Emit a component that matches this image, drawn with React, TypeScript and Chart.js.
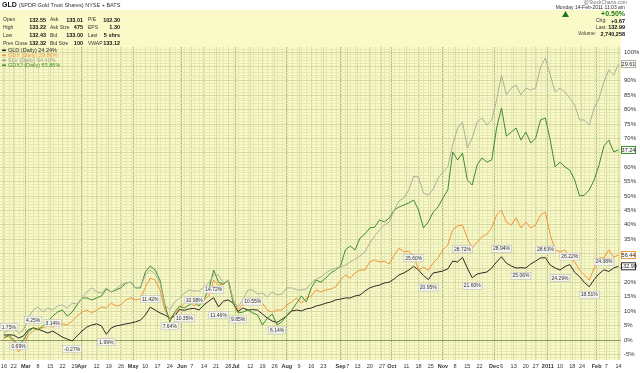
import React, { useEffect, useRef } from 'react';
import { Chart, registerables } from 'chart.js';
Chart.register(...registerables);

const FONT = '"Liberation Sans", Arial, sans-serif';

// ---- series (percent change, sampled every 2 trading days from 16-Feb-2010) ----
const dayStep = 2;
const gld = [1.7,1.8,1.7,0.7,1.4,3.5,4.2,3.8,3.1,2.4,3.1,2.1,1.0,0.3,-0.3,1.4,3.1,4.5,5.2,5.6,4.9,2.0,4.2,4.9,5.2,5.6,5.9,6.3,6.9,8.7,11.4,10.4,9.4,8.7,7.6,8.3,10.6,10.3,10.8,11.0,10.4,12.2,13.5,14.7,11.5,13.5,13.9,12.8,9.9,11.1,10.4,10.55,10.4,9.0,7.6,6.6,6.1,7.2,8.4,10.1,10.4,10.1,10.8,11.1,11.8,12.2,12.8,13.2,13.9,14.2,14.6,14.6,15.3,15.6,17.0,18.1,18.7,19.1,19.8,20.1,21.2,22.6,23.3,24.3,25.6,24.3,22.4,21.0,23.3,23.6,24.0,24.7,27.4,27.1,28.7,25.0,21.6,22.9,23.3,23.6,25.0,27.1,28.9,26.7,25.7,25.0,25.1,25.0,26.4,27.4,28.5,28.6,26.0,25.0,24.3,25.5,26.2,23.5,22.0,20.0,18.5,21.0,23.0,24.4,23.8,25.0,25.6];
const gdx = [0.7,1.4,-0.7,-4.2,-2.4,1.7,3.1,4.2,4.2,4.9,4.5,5.2,5.6,5.2,6.6,8.3,9.7,10.4,9.4,10.4,11.5,11.1,12.8,11.8,12.2,13.9,14.6,13.9,14.2,18.4,21.5,20.8,17.4,10.4,7.6,9.0,11.1,12.8,13.9,11.8,13.9,13.9,15.3,20.8,19.1,19.4,20.8,13.9,10.4,12.5,13.9,12.8,13.5,12.8,10.4,9.7,10.4,10.4,12.2,13.2,14.6,12.8,14.6,15.3,17.4,16.7,17.4,17.7,18.4,20.8,22.6,21.5,23.3,24.3,24.3,27.1,27.8,27.1,27.4,26.4,29.5,31.9,30.6,30.9,29.2,24.3,25.3,24.3,26.7,28.5,31.3,33.0,38.2,39.6,39.9,35.4,31.9,34.0,35.8,36.8,38.9,43.4,45.1,41.0,39.9,42.4,38.9,41.0,38.9,39.9,43.4,44.4,36.5,31.3,30.6,31.3,28.5,27.1,24.3,22.6,20.8,25.0,28.5,28.5,31.3,28.8,29.5];
const slv = [2.4,3.5,4.2,2.4,3.5,7.6,10.4,11.5,9.7,11.1,10.4,11.8,12.2,11.1,12.8,12.5,14.6,16.7,18.1,16.7,16.3,18.1,16.7,17.7,19.1,19.8,20.1,18.1,18.4,22.6,24.3,22.9,19.8,12.2,10.4,13.2,14.6,16.3,17.4,17.0,17.0,18.4,19.8,22.6,22.6,19.8,20.8,13.9,11.5,13.9,17.4,17.4,16.0,16.3,14.9,16.7,15.6,16.0,18.1,18.1,17.4,17.4,17.7,19.8,21.2,21.9,23.3,24.3,25.0,25.3,26.0,27.1,28.1,29.2,30.6,33.7,36.1,38.2,39.9,41.0,45.1,48.3,49.3,52.1,56.9,56.6,51.0,50.3,52.4,56.2,58.3,60.1,67.7,73.6,75.7,66.7,70.1,75.7,77.1,74.6,76.4,83.3,92.0,85.1,87.5,88.5,85.1,87.5,86.8,87.5,94.8,97.9,92.0,86.1,87.5,86.1,84.0,81.6,76.4,76.4,74.6,80.6,84.0,89.6,93.8,92.0,95.8];
const gdxj = [0.7,1.7,0,-1.7,0,2.8,4.2,3.5,4.9,6.3,8.3,9.7,10.4,8.3,9.7,12.2,14.6,14.6,13.9,14.6,15.3,17.7,16.7,17.4,18.1,19.8,20.1,18.1,18.1,23.6,25.7,24.3,20.8,12.2,6.3,9.7,11.8,11.1,12.2,13.2,11.8,14.2,17.4,24.3,20.1,19.4,20.8,12.8,9.4,9.7,10.4,9.4,8.7,5.2,7.6,9.0,5.2,6.3,8.7,10.4,12.8,15.3,13.2,18.1,20.8,20.1,21.5,23.3,24.3,25.7,31.3,32.6,31.3,35.4,36.8,38.9,39.2,41.7,41.0,42.4,45.1,46.2,46.9,47.6,48.6,45.1,38.9,41.0,44.4,46.2,49.3,52.1,65.3,62.5,64.9,55.6,53.8,60.8,63.2,61.8,62.5,73.6,80.6,70.8,72.2,73.6,69.4,72.2,68.4,70.1,76.4,77.1,69.4,60.1,61.8,60.1,59.0,55.6,50.0,50.3,52.1,55.6,60.8,67.4,69.4,65.3,66.0];

const seriesNames = ['SLV', 'GDXJ', 'GDX', 'GLD'];
const seriesColors = ['#a9b39b', '#3f8d2c', '#f3963a', '#2f2925'];
const legendTexts = ['GLD (Daily) 24.24%', 'GDX (Daily) 29.86%', 'SLV (Daily) 94.40%', 'GDXJ (Daily) 65.86%'];
const legendColors = ['#2f2925', '#f3963a', '#9aa58c', '#3f8d2c'];
const lastPrices = ['29.61', '37.24', '56.44', '132.99'];

// ---- x axis (trading-day index) ----
const tickDays = [0,4,9,14,19,24,29,32,38,43,48,53,58,63,68,73,77,82,87,92,95,101,106,111,116,121,126,131,138,141,145,150,155,159,165,170,175,180,185,190,195,201,204,209,214,218,223,228,233,237,243,247,252];
const tickLabels = ['16','22','Mar','8','15','22','29','Apr','12','19','26','May','10','17','24','Jun','7','14','21','28','Jul','12','19','26','Aug','9','16','23','Sep','7','13','20','27','Oct','11','18','25','Nov','8','15','22','Dec','6','13','20','27','2011','10','18','24','Feb','7','14'];

// ---- GLD swing labels: sample index, text, side (1 above / -1 below) ----
const noteIdx = [1,3,6,10,14,21,30,34,37,39,43,44,48,51,56,84,87,94,96,102,106,111,114,116,120,123];
const noteText = ['1.75%','0.69%','4.25%','3.14%','-0.27%','1.99%','11.42%','7.64%','10.35%','10.98%','14.72%','11.46%','9.85%','10.55%','6.14%','25.60%','20.95%','28.72%','21.60%','28.94%','25.06%','28.63%','24.29%','26.22%','18.51%','24.38%'];
const noteSide = [1,-1,1,1,-1,-1,1,-1,-1,1,1,-1,-1,1,-1,1,-1,1,-1,1,-1,1,-1,1,-1,1];

// ---- header info ----
const infoRows = [
  ['Open', '132.55', 'Ask', '133.01', 'P/E', '102.30'],
  ['High', '133.22', 'Ask Size', '475', 'EPS', '1.30'],
  ['Low', '132.43', 'Bid', '133.00', 'Last', '5 shrs'],
  ['Prev Close', '132.32', 'Bid Size', '100', 'VWAP', '133.12'],
];

const isMonthLabel = (s: string) => isNaN(Number(s)) || s === '2011';

export default function App() {
  const ref = useRef<HTMLCanvasElement | null>(null);
  useEffect(() => {
    const canvas = ref.current;
    if (!canvas) return;
    const days = gld.map((_, i) => i * dayStep);
    const all = [slv, gdxj, gdx, gld];

    const bgPlugin = {
      id: 'bg',
      beforeDraw(chart: any) {
        const { ctx, chartArea: a } = chart;
        ctx.save();
        ctx.fillStyle = '#ffffff';
        ctx.fillRect(0, 0, chart.width, chart.height);
        ctx.fillStyle = '#fafac8';
        ctx.fillRect(0, 10, a.right, a.top - 10);
        ctx.fillRect(a.left, a.top, a.right - a.left, a.bottom - a.top);
        const xs = chart.scales.x;
        ctx.strokeStyle = '#e6e8b6';
        ctx.lineWidth = 1;
        ctx.beginPath();
        for (let d = 0; d <= 252; d += 2) {
          const px = Math.round(xs.getPixelForValue(d)) + 0.5;
          ctx.moveTo(px, a.top);
          ctx.lineTo(px, a.bottom);
        }
        ctx.stroke();
        ctx.restore();
      },
    };

    const notePlugin = {
      id: 'notes',
      afterDatasetsDraw(chart: any) {
        const { ctx, chartArea: a } = chart;
        const meta = chart.getDatasetMeta(3);
        ctx.save();
        ctx.font = `5px ${FONT}`;
        ctx.textAlign = 'center';
        ctx.textBaseline = 'middle';
        noteIdx.forEach((k, i) => {
          const p = meta.data[k];
          if (!p) return;
          const t = noteText[i];
          const w = ctx.measureText(t).width + 3;
          const cy = p.y - noteSide[i] * 8;
          const cx = Math.max(a.left + w / 2, p.x);
          ctx.fillStyle = 'rgba(245,245,245,0.9)';
          ctx.fillRect(cx - w / 2, cy - 3.5, w, 7);
          ctx.strokeStyle = '#b8b8b8';
          ctx.lineWidth = 0.5;
          ctx.strokeRect(cx - w / 2, cy - 3.5, w, 7);
          ctx.fillStyle = '#333';
          ctx.fillText(t, cx, cy + 0.3);
        });
        [0, 1, 2, 3].forEach((di) => {
          const m = chart.getDatasetMeta(di);
          const p = m.data[m.data.length - 1];
          const t = lastPrices[di];
          const w = 14;
          const x0 = a.right;
          ctx.fillStyle = '#ffffff';
          ctx.fillRect(x0, p.y - 3.5, w, 7);
          ctx.strokeStyle = seriesColors[di];
          ctx.lineWidth = 1;
          ctx.strokeRect(x0 + 0.5, p.y - 3.5, w, 7);
          ctx.fillStyle = '#222';
          ctx.font = `5.5px ${FONT}`;
          ctx.textAlign = 'center';
          ctx.fillText(t, x0 + w / 2 + 0.5, p.y + 0.3);
        });
        ctx.restore();
      },
      afterDraw(chart: any) {
        const { ctx } = chart;
        ctx.save();
        ctx.textBaseline = 'middle';
        ctx.fillStyle = '#111';
        ctx.font = `bold 7px ${FONT}`;
        ctx.textAlign = 'left';
        ctx.fillText('GLD', 2, 5);
        const w0 = ctx.measureText('GLD').width;
        ctx.font = `5.5px ${FONT}`;
        ctx.fillStyle = '#333';
        ctx.fillText('(SPDR Gold Trust Shares) NYSE + BATS', 2 + w0 + 2, 5);
        ctx.textAlign = 'right';
        ctx.fillStyle = '#777';
        ctx.font = `5px ${FONT}`;
        ctx.fillText('@StockCharts.com', 627, 3);
        const lx = [3, 50, 88];
        const vx = [46, 83, 120];
        infoRows.forEach((row, r) => {
          const y = 20 + r * 7.8;
          for (let c = 0; c < 3; c++) {
            ctx.textAlign = 'left';
            ctx.font = `5px ${FONT}`;
            ctx.fillStyle = '#333';
            ctx.fillText(row[c * 2], lx[c], y);
            ctx.textAlign = 'right';
            ctx.font = `bold 5.5px ${FONT}`;
            ctx.fillStyle = '#111';
            ctx.fillText(row[c * 2 + 1], vx[c], y);
          }
        });
        ctx.textAlign = 'right';
        ctx.font = `5px ${FONT}`;
        ctx.fillStyle = '#333';
        ctx.fillText('Monday 14-Feb-2011 11:03 am', 625, 8);
        ctx.fillStyle = '#1f7a1f';
        ctx.font = `bold 7px ${FONT}`;
        ctx.fillText('+0.50%', 625, 14.5);
        ctx.beginPath();
        ctx.moveTo(562, 17);
        ctx.lineTo(565.5, 11);
        ctx.lineTo(569, 17);
        ctx.closePath();
        ctx.fill();
        const rr: [string, string, number, number][] = [
          ['Chg:', '+0.67', 21, 596],
          ['Last:', '132.99', 27.5, 596],
          ['Volume:', '2,740,258', 34, 578],
        ];
        rr.forEach(([l, v, y, x]) => {
          ctx.textAlign = 'left';
          ctx.font = `5px ${FONT}`;
          ctx.fillStyle = '#333';
          ctx.fillText(l, x, y);
          ctx.textAlign = 'right';
          ctx.font = `bold 5.5px ${FONT}`;
          ctx.fillStyle = '#111';
          ctx.fillText(v, 625, y);
        });
        legendTexts.forEach((t, i) => {
          const y = 50.5 + i * 5;
          ctx.fillStyle = legendColors[i];
          ctx.fillRect(2, y - 1, 4, 1.6);
          ctx.textAlign = 'left';
          ctx.font = `5.5px ${FONT}`;
          ctx.fillText(t, 8, y);
        });
        ctx.restore();
      },
    };

    const chart = new Chart(canvas, {
      type: 'line',
      data: {
        datasets: all.map((vals, i) => ({
          label: seriesNames[i],
          data: vals.map((v, j) => ({ x: days[j], y: v })),
          borderColor: seriesColors[i],
          borderWidth: 1,
          pointRadius: 0,
          tension: 0,
          fill: false,
        })),
      },
      options: {
        animation: false,
        responsive: false,
        maintainAspectRatio: false,
        layout: { padding: { top: 47, left: 0, right: 0, bottom: 0 } },
        plugins: { legend: { display: false }, tooltip: { enabled: false } },
        scales: {
          x: {
            type: 'linear',
            min: -1.6,
            max: 253,
            afterBuildTicks: (s: any) => {
              s.ticks = tickDays.map((v) => ({ value: v }));
            },
            afterFit: (s: any) => {
              s.height = 13;
              s.paddingLeft = 0;
              s.paddingRight = 0;
            },
            ticks: {
              autoSkip: false,
              maxRotation: 0,
              padding: 3,
              color: '#333',
              font: (c: any) => ({
                size: 5.5,
                family: FONT,
                weight: c.index !== undefined && isMonthLabel(tickLabels[c.index]) ? 'bold' : 'normal',
              }),
              callback: (_v: any, i: number) => tickLabels[i],
            },
            grid: {
              drawTicks: false,
              color: (c: any) => {
                const i = tickDays.indexOf(c.tick ? c.tick.value : -1);
                return i >= 0 && isMonthLabel(tickLabels[i]) ? '#b1bd86' : '#d6d9a4';
              },
            },
            border: { display: false },
          },
          y: {
            type: 'linear',
            position: 'right',
            min: -6.94,
            max: 101.74,
            afterBuildTicks: (s: any) => {
              const t = [];
              for (let v = -6; v <= 101; v++) t.push({ value: v });
              s.ticks = t;
            },
            afterFit: (s: any) => {
              s.width = 19;
              s.paddingTop = 0;
              s.paddingBottom = 0;
            },
            ticks: {
              autoSkip: false,
              padding: 3,
              color: '#333',
              font: { size: 6, family: FONT },
              callback: (v: any) => (Number(v) % 5 === 0 ? v + '%' : ''),
            },
            grid: {
              drawTicks: false,
              color: (c: any) => {
                const v = c.tick ? c.tick.value : 1;
                if (v === 0) return '#8a9a5a';
                return v % 5 === 0 ? '#d6d9a4' : '#e6e8b6';
              },
            },
            border: { display: false },
          },
        },
      },
      plugins: [bgPlugin, notePlugin],
    } as any);
    return () => chart.destroy();
  }, []);

  return (
    <div style={{ position: 'absolute', left: 0, top: 0, width: 640, height: 373, background: '#fff' }}>
      <canvas ref={ref} width={640} height={373} style={{ display: 'block' }} />
    </div>
  );
}
